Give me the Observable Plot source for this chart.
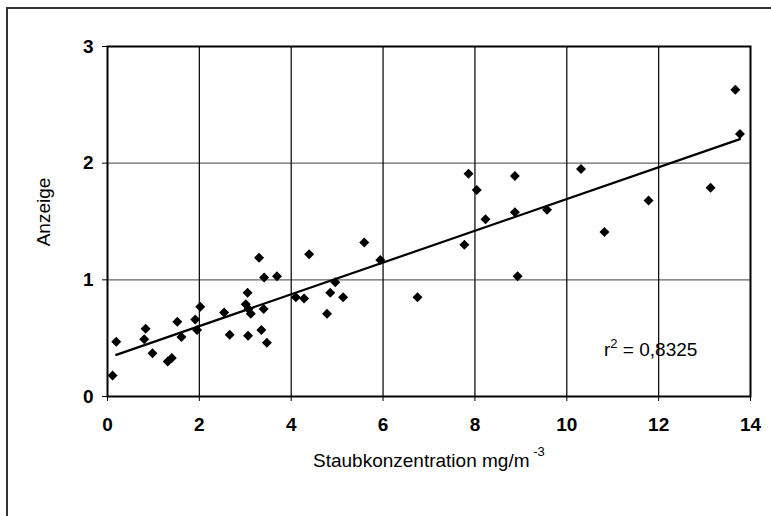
<!DOCTYPE html>
<html><head><meta charset="utf-8">
<script src="https://cdn.jsdelivr.net/npm/d3@7"></script>
<script src="https://cdn.jsdelivr.net/npm/@observablehq/plot@0.6"></script>
<style>
body{margin:0;background:#fff}
#chart{position:relative;width:771px;height:516px;overflow:hidden}
#outer{position:absolute;left:6px;top:7px;width:800px;height:600px;border-left:2px solid #333;border-top:2px solid #333;pointer-events:none}
</style>
</head><body><div id="chart"><div id="outer"></div></div>
<script>
const staub = [0.11,0.19,0.80,0.83,0.98,1.31,1.40,1.52,1.61,1.91,1.95,2.02,2.54,2.66,3.01,3.05,3.07,3.12,3.06,3.30,3.35,3.40,3.41,3.47,3.69,4.10,4.28,4.39,4.78,4.85,4.96,5.13,5.59,5.94,6.75,7.77,7.86,8.04,8.23,8.87,8.87,8.93,9.57,10.31,10.82,11.78,13.13,13.67,13.77];
const anzeige = [0.18,0.47,0.49,0.58,0.37,0.30,0.33,0.64,0.51,0.66,0.57,0.77,0.72,0.53,0.79,0.89,0.75,0.71,0.52,1.19,0.57,0.75,1.02,0.46,1.03,0.85,0.84,1.22,0.71,0.89,0.98,0.85,1.32,1.17,0.85,1.30,1.91,1.77,1.52,1.89,1.58,1.03,1.60,1.95,1.41,1.68,1.79,2.63,2.25];
const xTicks = [0,2,4,6,8,10,12,14];
const yTicks = [0,1,2,3];
const fitX = [0.19, 13.77];
const fitY = [0.357, 2.206];
const xTitle = "Staubkonzentration mg/m";
const xTitleSup = "-3";
const yTitle = "Anzeige";
const r2Value = "0,8325";

const points = staub.map((x, i) => ({x, y: anzeige[i]}));
const fit = fitX.map((x, i) => ({x, y: fitY[i]}));

const plot = Plot.plot({
  width: 771, height: 516,
  marginLeft: 107, marginRight: 21, marginTop: 46, marginBottom: 120,
  style: {fontFamily: "'Liberation Sans', Arial, sans-serif", background: "transparent", color: "#000"},
  x: {domain: [0, 14]},
  y: {domain: [0, 3]},
  marks: [
    Plot.gridY([1, 2], {stroke: "#666", strokeOpacity: 1, strokeWidth: 1.3}),
    Plot.gridX([2,4,6,8,10,12], {stroke: "#111", strokeOpacity: 1, strokeWidth: 1.3}),
    Plot.frame({stroke: "#000", strokeWidth: 2}),
    Plot.axisX({ticks: xTicks, tickSize: 5, tickPadding: 16, fontSize: 19, fontWeight: "bold", label: null, tickFormat: d => String(d)}),
    Plot.axisY({ticks: yTicks, tickSize: 5, tickPadding: 9, fontSize: 19, fontWeight: "bold", label: null, tickFormat: d => String(d)}),
    Plot.line(fit, {x: "x", y: "y", stroke: "#000", strokeWidth: 2.2}),
    Plot.dot(points, {x: "x", y: "y", symbol: "diamond2", r: 4.5, fill: "#000", stroke: "none"})
  ]
});

const svg = d3.select(plot);
const xt = svg.append("text").attr("x", 313).attr("y", 467).attr("text-anchor", "start")
  .attr("font-size", 19).attr("fill", "#000").text(xTitle);
xt.append("tspan").attr("font-size", 13).attr("dy", -11).text(" " + xTitleSup);

svg.append("text").attr("transform", "translate(50,212) rotate(-90)")
  .attr("text-anchor", "middle").attr("font-size", 19).attr("fill", "#000").text(yTitle);

const rt = svg.append("text").attr("x", 604).attr("y", 356).attr("text-anchor", "start")
  .attr("font-size", 19).attr("fill", "#000");
rt.append("tspan").text("r");
rt.append("tspan").attr("font-size", 13).attr("dy", -8).text("2");
rt.append("tspan").attr("dy", 8).text(" = " + r2Value);

document.getElementById("chart").appendChild(plot);
plot.style.position = "absolute"; plot.style.left = "0"; plot.style.top = "0";
</script>
</body></html>
